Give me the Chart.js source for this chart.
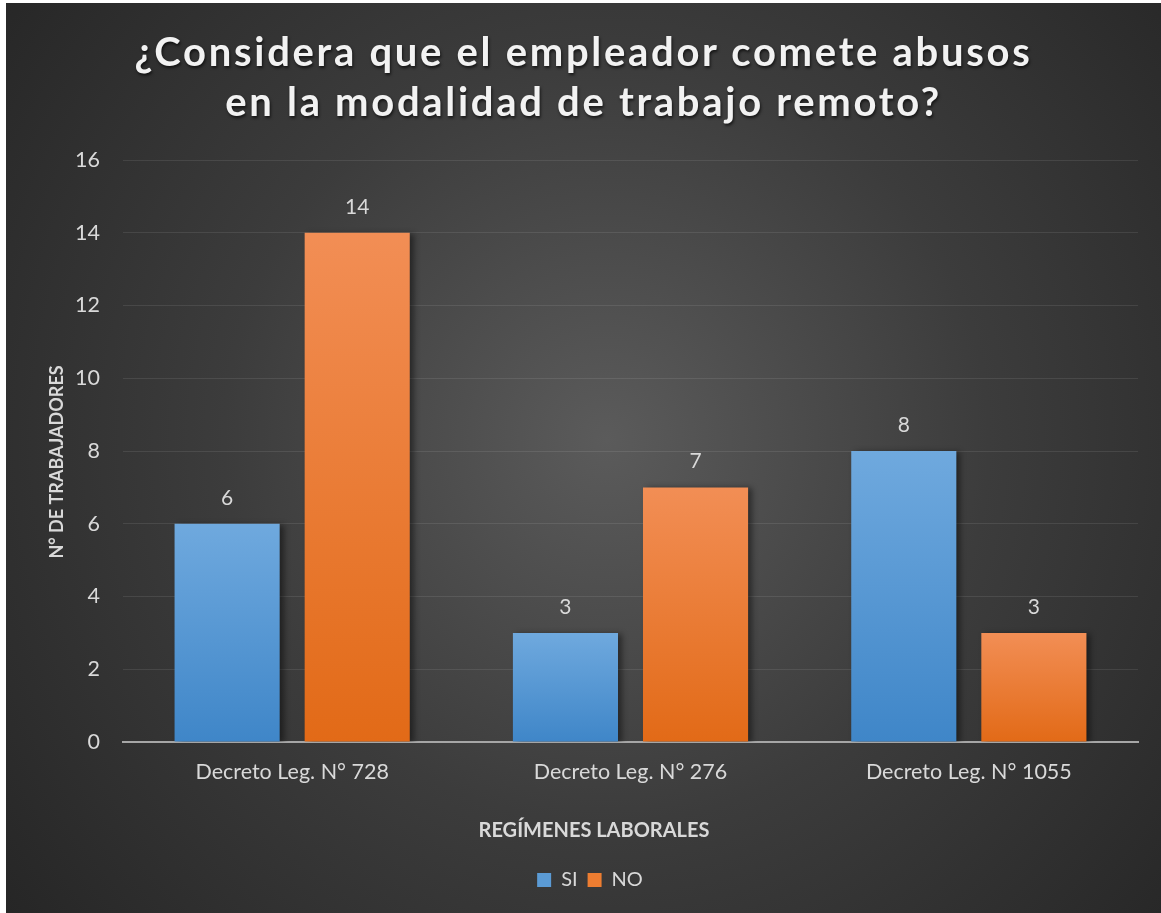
<!DOCTYPE html>
<html lang="es">
<head>
<meta charset="utf-8">
<title>Abusos del empleador - trabajo remoto</title>
<script src="https://cdn.jsdelivr.net/npm/chart.js@4.4.1/dist/chart.umd.min.js"></script>
<style>
  html, body { margin: 0; padding: 0; background: #ffffff; }
  #marco {
    position: absolute;
    left: 6px; top: 3px;
    width: 1155px; height: 910px;
    background: radial-gradient(circle farthest-corner at 52% 48%, #5b5b5b 0%, #3c3c3c 50%, #262626 100%);
    overflow: hidden;
  }
  #titulo {
    position: absolute;
    left: 0; right: 0; top: 23px;
    margin: 0;
    text-align: center;
    font-family: Lato, "Open Sans", sans-serif;
    font-weight: bold;
    font-size: 40px;
    line-height: 50px;
    letter-spacing: 2.7px;
    color: #f2f2f2;
    text-shadow: 1px 2px 3px rgba(0, 0, 0, 0.65);
    z-index: 2;
  }
  #lienzo { position: absolute; left: 0; top: 0; width: 1155px; height: 910px; }
</style>
</head>
<body>
<div id="marco">
  <h1 id="titulo">¿Considera que el empleador comete abusos<br>en la modalidad de trabajo remoto?</h1>
  <div id="lienzo"><canvas id="grafico"></canvas></div>
</div>
<script>
// Datos del gráfico
const regimenes = ["Decreto Leg. N° 728", "Decreto Leg. N° 276", "Decreto Leg. N° 1055"];
const valoresSi = [6, 3, 8];
const valoresNo = [14, 7, 3];
const ejeYMin = 0;
const ejeYMax = 16;
const ejeYPaso = 2;
const tituloX = "REGÍMENES LABORALES";
const tituloY = "N° DE TRABAJADORES";

const colorTexto = "#d9d9d9";
const fuente = "Lato, 'Open Sans', sans-serif";
Chart.defaults.font.family = fuente;
Chart.defaults.color = colorTexto;

// Degradado vertical para cada barra
function degradadoBarra(c, arriba, abajo) {
  const chart = c.chart;
  if (!chart.chartArea || c.raw === undefined) return arriba;
  const y = chart.scales.y;
  const yTop = y.getPixelForValue(c.raw);
  const yBase = y.getPixelForValue(0);
  if (!isFinite(yTop) || yTop === yBase) return arriba;
  const g = chart.ctx.createLinearGradient(0, yTop, 0, yBase);
  g.addColorStop(0, arriba);
  g.addColorStop(1, abajo);
  return g;
}

// Sombra de las barras, etiquetas de valores y titulos de ejes
const sombraYEtiquetas = {
  id: "sombraYEtiquetas",
  beforeDatasetsDraw(chart) {
    const ctx = chart.ctx;
    ctx.save();
    ctx.shadowColor = "rgba(0, 0, 0, 0.45)";
    ctx.shadowBlur = 6;
    ctx.shadowOffsetX = 4;
    ctx.shadowOffsetY = 1;
  },
  afterDatasetsDraw(chart) {
    const ctx = chart.ctx;
    ctx.restore();
    ctx.save();
    ctx.font = "21px " + fuente;
    ctx.fillStyle = colorTexto;
    ctx.textAlign = "center";
    ctx.textBaseline = "middle";
    chart.data.datasets.forEach((ds, i) => {
      chart.getDatasetMeta(i).data.forEach((bar, j) => {
        ctx.fillText(String(ds.data[j]), bar.x, bar.y - 26);
      });
    });
    ctx.restore();
  },
  afterDraw(chart) {
    const ctx = chart.ctx;
    ctx.save();
    ctx.font = "bold 20px " + fuente;
    ctx.fillStyle = colorTexto;
    ctx.textAlign = "center";
    ctx.textBaseline = "middle";
    // titulo eje X
    ctx.fillText(tituloX, 588, 828);
    // titulo eje Y (rotado)
    ctx.translate(51, 459);
    ctx.rotate(-Math.PI / 2);
    ctx.font = "bold 18px " + fuente;
    ctx.fillText(tituloY, 0, 0);
    ctx.restore();
  }
};

const ctx = document.getElementById("grafico").getContext("2d");
new Chart(ctx, {
  type: "bar",
  data: {
    labels: regimenes,
    datasets: [
      {
        label: "SI",
        data: valoresSi,
        backgroundColor: c => degradadoBarra(c, "#6fa9de", "#3f86c8"),
        borderWidth: 0
      },
      {
        label: "NO",
        data: valoresNo,
        backgroundColor: c => degradadoBarra(c, "#f28e55", "#e26a17"),
        borderWidth: 0
      }
    ]
  },
  plugins: [sombraYEtiquetas],
  options: {
    responsive: true,
    maintainAspectRatio: false,
    animation: false,
    categoryPercentage: 0.769,
    barPercentage: 0.808,
    layout: {
      padding: { top: 157, right: 23, bottom: 13, left: 36 }
    },
    plugins: {
      title: { display: false },
      tooltip: { enabled: false },
      legend: {
        display: true,
        position: "bottom",
        labels: {
          boxWidth: 14,
          boxHeight: 14,
          padding: 10,
          color: colorTexto,
          font: { size: 20 },
          generateLabels(chart) {
            const colores = ["#5b9bd5", "#ed7d31"];
            return chart.data.datasets.map((ds, i) => ({
              text: ds.label,
              fillStyle: colores[i],
              strokeStyle: colores[i],
              lineWidth: 0,
              fontColor: colorTexto,
              datasetIndex: i,
              hidden: false
            }));
          }
        }
      }
    },
    scales: {
      x: {
        grid: { drawOnChartArea: false, drawTicks: false },
        border: { display: true, color: "#a6a6a6", width: 2 },
        ticks: { color: colorTexto, font: { size: 21.5 }, padding: 17 },
        title: { display: false },
        afterFit(scale) { scale.height = 118; }
      },
      y: {
        min: ejeYMin,
        max: ejeYMax,
        ticks: { stepSize: ejeYPaso, color: colorTexto, font: { size: 21.5 }, padding: 23 },
        grid: { color: "rgba(255, 255, 255, 0.09)", lineWidth: 1, drawTicks: false },
        border: { display: false },
        title: { display: false },
        afterFit(scale) { scale.width = 81; }
      }
    }
  }
});
</script>
</body>
</html>
